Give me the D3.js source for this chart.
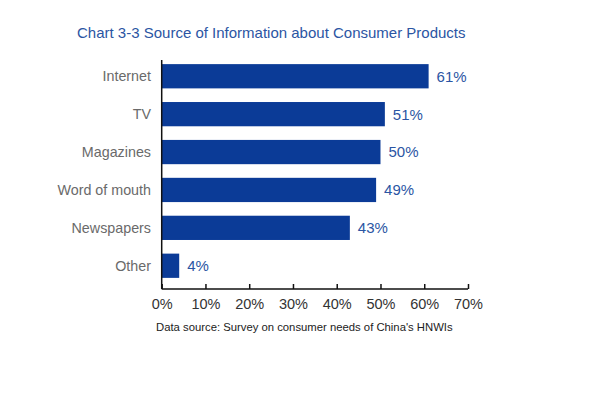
<!DOCTYPE html>
<html><head><meta charset="utf-8">
<script src="https://cdn.jsdelivr.net/npm/d3@7/dist/d3.min.js"></script>
<style>body{margin:0;background:#fff;}svg{display:block;font-family:Arial,"Liberation Sans",sans-serif;}</style>
</head><body>
<script>
const categories = ["Internet","TV","Magazines","Word of mouth","Newspapers","Other"];
const values = [61,51,50,49,43,4];
const tickValues = [0,10,20,30,40,50,60,70];
const title = "Chart 3-3 Source of Information about Consumer Products";
const source = "Data source: Survey on consumer needs of China's HNWIs";

const W = 590, H = 395;
const svg = d3.select("body").append("svg").attr("width",W).attr("height",H);
const x = d3.scaleLinear().domain([0,70]).range([161.7,468]);
const y = d3.scaleBand().domain(categories).range([57.3,284.7]).paddingInner(0.36).paddingOuter(0.18);
const axisY = 289;

svg.append("text").attr("x",77).attr("y",38).attr("fill","#2b55a3")
  .attr("font-size",15).text(title);

svg.selectAll("rect.bar").data(values).join("rect").attr("class","bar")
  .attr("x",x(0)).attr("y",(d,i)=>y(categories[i]))
  .attr("width",d=>x(d)-x(0)).attr("height",y.bandwidth()).attr("fill","#0b3b97");

svg.selectAll("text.val").data(values).join("text").attr("class","val")
  .attr("x",d=>x(d)+8).attr("y",(d,i)=>y(categories[i])+y.bandwidth()/2)
  .attr("dy","0.36em").attr("fill","#2b55a3").attr("font-size",15).text(d=>d+"%");

svg.selectAll("text.cat").data(categories).join("text").attr("class","cat")
  .attr("x",151).attr("y",d=>y(d)+y.bandwidth()/2).attr("dy","0.36em")
  .attr("text-anchor","end").attr("fill","#6a6a6a").attr("font-size",14.3).text(d=>d);

// axes
const gx = svg.append("g").attr("transform",`translate(0,${axisY})`)
  .call(d3.axisBottom(x).tickValues(tickValues).tickSize(-5).tickPadding(10).tickFormat(d=>d+"%"));
gx.select(".domain").attr("stroke","#111").attr("stroke-width",1.5).attr("d",`M${x(0)},0H${x(70)}`);
gx.selectAll(".tick line").attr("stroke","#111").attr("stroke-width",1.5);
gx.selectAll(".tick text").attr("font-size",14.5).attr("fill","#333").attr("font-family","Arial,'Liberation Sans',sans-serif").attr("y",10).attr("dy","0.71em");

const gy = svg.append("g").attr("transform",`translate(${x(0)},0)`)
  .call(d3.axisLeft(y).tickSize(0).tickFormat(""));
gy.select(".domain").attr("stroke","#111").attr("stroke-width",1.5).attr("d",`M0,60V${axisY}`);

svg.append("text").attr("x",156).attr("y",331).attr("fill","#222").attr("font-size",11.3).text(source);
</script>
</body></html>
